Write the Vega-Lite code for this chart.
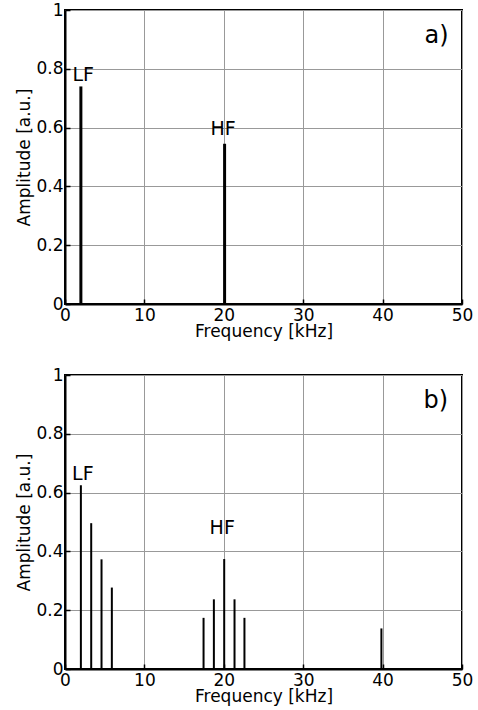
{
  "$schema": "https://vega.github.io/schema/vega-lite/v6.json",
  "padding": {"left": 14, "top": 0, "right": 2, "bottom": 2},
  "background": "white",
  "datasets": {
    "a": [
      {"freq": 2.0, "amp": 0.74},
      {"freq": 20.1, "amp": 0.545}
    ],
    "a_labels": [
      {"label": "LF", "freq": 2.3, "amp": 0.76},
      {"label": "HF", "freq": 19.9, "amp": 0.575}
    ],
    "b": [
      {"freq": 2.0, "amp": 0.625},
      {"freq": 3.3, "amp": 0.496},
      {"freq": 4.6, "amp": 0.373},
      {"freq": 5.9, "amp": 0.277},
      {"freq": 17.45, "amp": 0.174},
      {"freq": 18.75, "amp": 0.237},
      {"freq": 20.05, "amp": 0.374},
      {"freq": 21.35, "amp": 0.237},
      {"freq": 22.6, "amp": 0.174},
      {"freq": 39.85, "amp": 0.138}
    ],
    "b_labels": [
      {"label": "LF", "freq": 2.25, "amp": 0.643},
      {"label": "HF", "freq": 19.8, "amp": 0.459}
    ]
  },
  "vconcat": [
    {
      "width": 397,
      "height": 294,
      "layer": [
        {
          "data": {"name": "a"},
          "mark": {"type": "rule", "strokeWidth": 3, "color": "black"},
          "encoding": {
            "x": {"field": "freq", "type": "quantitative", "scale": {"domain": [0, 50]},
                  "axis": {"title": "Frequency [kHz]", "values": [0, 10, 20, 30, 40, 50]}},
            "y": {"field": "amp", "type": "quantitative", "scale": {"domain": [0, 1]},
                  "axis": {"title": "Amplitude [a.u.]", "values": [0, 0.2, 0.4, 0.6, 0.8, 1], "format": "~g"}},
            "y2": {"datum": 0}
          }
        },
        {
          "data": {"name": "a_labels"},
          "mark": {"type": "text", "fontSize": 19, "baseline": "alphabetic", "align": "center", "color": "black"},
          "encoding": {
            "x": {"field": "freq", "type": "quantitative"},
            "y": {"field": "amp", "type": "quantitative"},
            "text": {"field": "label"}
          }
        },
        {
          "data": {"values": [{"tag": "a)"}]},
          "mark": {"type": "text", "fontSize": 24, "baseline": "alphabetic", "align": "center", "color": "black"},
          "encoding": {
            "x": {"datum": 46.8, "type": "quantitative"},
            "y": {"datum": 0.889, "type": "quantitative"},
            "text": {"field": "tag"}
          }
        }
      ]
    },
    {
      "width": 397,
      "height": 294,
      "layer": [
        {
          "data": {"name": "b"},
          "mark": {"type": "rule", "strokeWidth": 2, "color": "black"},
          "encoding": {
            "x": {"field": "freq", "type": "quantitative", "scale": {"domain": [0, 50]},
                  "axis": {"title": "Frequency [kHz]", "values": [0, 10, 20, 30, 40, 50]}},
            "y": {"field": "amp", "type": "quantitative", "scale": {"domain": [0, 1]},
                  "axis": {"title": "Amplitude [a.u.]", "values": [0, 0.2, 0.4, 0.6, 0.8, 1], "format": "~g"}},
            "y2": {"datum": 0}
          }
        },
        {
          "data": {"name": "b_labels"},
          "mark": {"type": "text", "fontSize": 19, "baseline": "alphabetic", "align": "center", "color": "black"},
          "encoding": {
            "x": {"field": "freq", "type": "quantitative"},
            "y": {"field": "amp", "type": "quantitative"},
            "text": {"field": "label"}
          }
        },
        {
          "data": {"values": [{"tag": "b)"}]},
          "mark": {"type": "text", "fontSize": 24, "baseline": "alphabetic", "align": "center", "color": "black"},
          "encoding": {
            "x": {"datum": 46.7, "type": "quantitative"},
            "y": {"datum": 0.889, "type": "quantitative"},
            "text": {"field": "tag"}
          }
        }
      ]
    }
  ],
  "spacing": 25,
  "config": {
    "font": "DejaVu Sans",
    "view": {"stroke": "black", "strokeWidth": 2},
    "text": {"font": "DejaVu Sans"},
    "axis": {
      "labelFont": "DejaVu Sans",
      "labelFontSize": 17,
      "labelColor": "black",
      "labelFlush": false,
      "labelOverlap": false,
      "titleFont": "DejaVu Sans",
      "titleFontSize": 17,
      "titleFontWeight": "normal",
      "titleColor": "black",
      "gridColor": "#999999",
      "gridOpacity": 1,
      "gridWidth": 1,
      "domainColor": "black",
      "domainWidth": 2,
      "tickColor": "black",
      "tickWidth": 1.5,
      "tickSize": -5,
      "labelPadding": 8
    },
    "axisX": {"titlePadding": 0},
    "axisY": {"titlePadding": 2, "labelPadding": 7}
  }
}
